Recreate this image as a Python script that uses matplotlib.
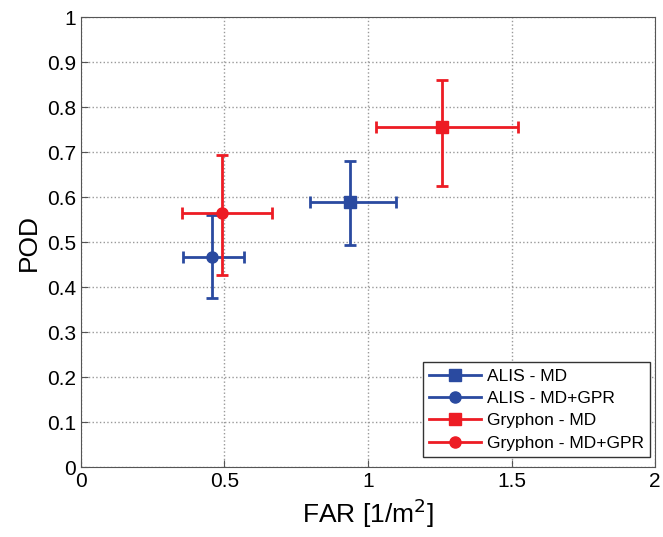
import matplotlib
matplotlib.use("Agg")
import matplotlib.pyplot as plt
from matplotlib.lines import Line2D

plt.rcParams['font.family'] = ['Liberation Sans', 'DejaVu Sans']

# Donnees (centre + bornes des barres d'erreur)
labels = ["ALIS - MD", "ALIS - MD+GPR", "Gryphon - MD", "Gryphon - MD+GPR"]
far = [0.939, 0.455, 1.257, 0.490]
far_min = [0.798, 0.357, 1.027, 0.351]
far_max = [1.098, 0.569, 1.521, 0.666]
pod = [0.590, 0.468, 0.756, 0.564]
pod_min = [0.494, 0.375, 0.624, 0.427]
pod_max = [0.680, 0.560, 0.861, 0.693]
couleurs = ["#2a4aa0", "#2a4aa0", "#ed1c24", "#ed1c24"]
marqueurs = ["s", "o", "s", "o"]

fig = plt.figure(figsize=(6.63, 5.37), dpi=100)
ax = fig.add_axes([0.122, 0.130, 0.866, 0.838])

handles = []
for i in range(len(labels)):
    xerr = [[far[i] - far_min[i]], [far_max[i] - far[i]]]
    yerr = [[pod[i] - pod_min[i]], [pod_max[i] - pod[i]]]
    ax.errorbar(far[i], pod[i], xerr=xerr, yerr=yerr,
                color=couleurs[i], marker=marqueurs[i], markersize=8,
                linestyle="none", elinewidth=2, capsize=4, capthick=2)
    handles.append(Line2D([], [], color=couleurs[i], marker=marqueurs[i],
                          markersize=8, linewidth=2, label=labels[i]))

ax.set_xlim(0, 2)
ax.set_ylim(0, 1)
ax.set_xticks([0, 0.5, 1, 1.5, 2])
ax.set_xticklabels(["0", "0.5", "1", "1.5", "2"])
ax.set_yticks([i / 10 for i in range(11)])
ax.set_yticklabels(["0"] + ["0.%d" % i for i in range(1, 10)] + ["1"])
ax.tick_params(labelsize=15, direction="in", length=5, color="#555555")
ax.grid(True, linestyle=":", color="#999999", linewidth=1)
for s in ax.spines.values():
    s.set_color("#555555")

ax.set_xlabel("FAR [1/m$^2$]", fontsize=19)
ax.set_ylabel("POD", fontsize=19)

# Legende en bas a droite
leg = ax.legend(handles=handles, loc="lower right", fontsize=12.5,
                bbox_to_anchor=(650 / 663, 80 / 537),
                bbox_transform=fig.transFigure, borderaxespad=0,
                fancybox=False, edgecolor="#333333", framealpha=1,
                handlelength=3.0, handletextpad=0.35, borderpad=0.35,
                labelspacing=0.42)
leg.get_frame().set_linewidth(1)

fig.savefig("out.png", dpi=100)
